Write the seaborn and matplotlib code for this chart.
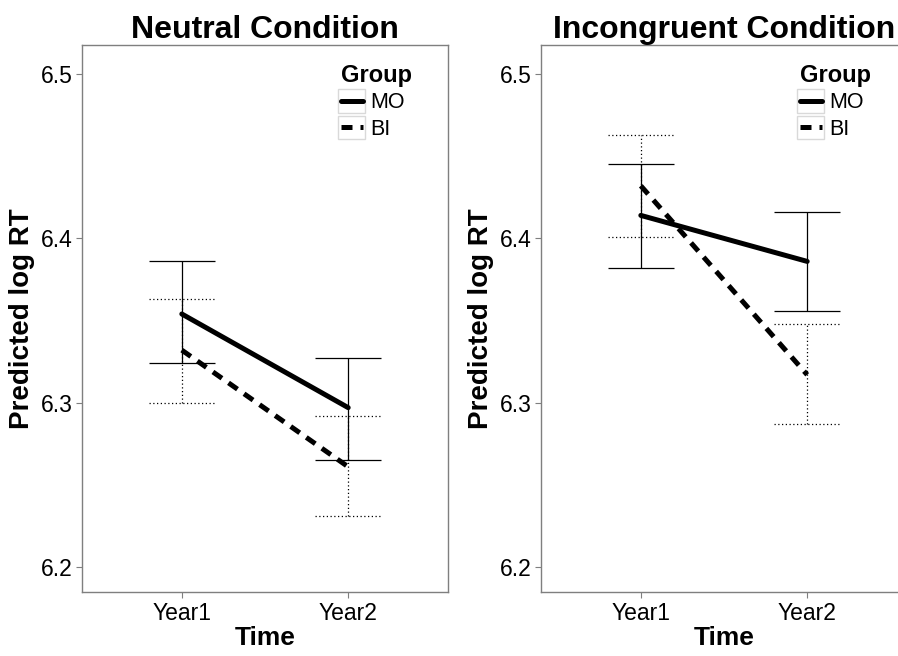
import matplotlib
matplotlib.use("Agg")
import matplotlib.pyplot as plt
import seaborn as sns
import pandas as pd
from matplotlib.lines import Line2D
from matplotlib.patches import Rectangle
from matplotlib.legend_handler import HandlerLine2D

# Valores
times = ["Year1", "Year2"]
groups = ["MO", "BI"]
conditions = ["Neutral Condition", "Incongruent Condition"]

neutral_mo = [6.354, 6.297]
neutral_mo_lo = [6.324, 6.265]
neutral_mo_hi = [6.386, 6.327]
neutral_bi = [6.332, 6.261]
neutral_bi_lo = [6.300, 6.231]
neutral_bi_hi = [6.363, 6.292]

incong_mo = [6.414, 6.386]
incong_mo_lo = [6.382, 6.356]
incong_mo_hi = [6.445, 6.416]
incong_bi = [6.432, 6.317]
incong_bi_lo = [6.401, 6.287]
incong_bi_hi = [6.463, 6.348]

y_ticks = [6.2, 6.3, 6.4, 6.5]


def build_df(cond, mo, mo_lo, mo_hi, bi, bi_lo, bi_hi):
    rows = []
    for g, v, lo, hi in [("MO", mo, mo_lo, mo_hi), ("BI", bi, bi_lo, bi_hi)]:
        for i, t in enumerate(times):
            rows.append({"condition": cond, "Time": t, "Group": g,
                         "rt": v[i], "lo": lo[i], "hi": hi[i]})
    return pd.DataFrame(rows)


class BoxedLine(HandlerLine2D):
    # clave de leyenda con recuadro gris, como en ggplot
    def create_artists(self, legend, orig_handle, xdescent, ydescent,
                       width, height, fontsize, trans):
        arts = super().create_artists(legend, orig_handle, xdescent, ydescent,
                                      width, height, fontsize, trans)
        box = Rectangle((-xdescent - 2, -ydescent - 3), width + 4, height + 6,
                        fill=False, edgecolor="#d9d9d9", linewidth=1.0,
                        transform=trans)
        return [box] + arts


df = pd.concat([
    build_df(conditions[0], neutral_mo, neutral_mo_lo, neutral_mo_hi,
             neutral_bi, neutral_bi_lo, neutral_bi_hi),
    build_df(conditions[1], incong_mo, incong_mo_lo, incong_mo_hi,
             incong_bi, incong_bi_lo, incong_bi_hi),
], ignore_index=True)
df["x"] = df["Time"].map({t: i for i, t in enumerate(times)})

sns.set_theme(style="white")
plt.rcParams["font.family"] = ["Liberation Sans", "DejaVu Sans"]
plt.rcParams["text.color"] = "black"
plt.rcParams["axes.labelcolor"] = "black"
plt.rcParams["axes.titlecolor"] = "black"

fig = plt.figure(figsize=(8.98, 6.56), dpi=100)
W, H = 898, 656
ax_pos = [(82, 45, 366, 547), (541, 45, 366, 547)]

main_dash = {"MO": "", "BI": (2.2, 1.6)}
err_style = {"MO": "-", "BI": (0, (1, 2))}

for cond, (px, py, pw, ph) in zip(conditions, ax_pos):
    ax = fig.add_axes([px / W, 1 - (py + ph) / H, pw / W, ph / H])
    sub = df[df["condition"] == cond]

    # barras de error: BI primero, MO encima
    for g in ["BI", "MO"]:
        d = sub[sub["Group"] == g]
        ax.vlines(d["x"], d["lo"], d["hi"], colors="black",
                  linewidth=0.9, linestyles=err_style[g], zorder=2)
        ax.hlines(d["lo"], d["x"] - 0.2, d["x"] + 0.2, colors="black",
                  linewidth=0.9, linestyles=err_style[g], zorder=2)
        ax.hlines(d["hi"], d["x"] - 0.2, d["x"] + 0.2, colors="black",
                  linewidth=0.9, linestyles=err_style[g], zorder=2)

    sns.lineplot(data=sub, x="x", y="rt", style="Group", style_order=groups,
                 dashes=main_dash, color="black", linewidth=3.6,
                 ax=ax, legend=False, zorder=3)

    ax.set_xlim(-0.6, 1.6)
    ax.set_ylim(6.1848, 6.5177)
    ax.set_xticks(range(len(times)))
    ax.set_xticklabels(times)
    ax.set_yticks(y_ticks)
    ax.set_yticklabels([f"{v:.1f}" for v in y_ticks])
    ax.tick_params(axis="both", direction="out", length=4, width=0.8,
                   color="#7f7f7f", labelsize=16.5, labelcolor="black",
                   bottom=True, left=True, pad=3)
    for sp in ax.spines.values():
        sp.set_color("#7f7f7f")
        sp.set_linewidth(1.0)
    ax.set_title(cond, fontsize=23, fontweight="bold", pad=5)
    ax.set_xlabel("Time", fontsize=19, fontweight="bold", labelpad=1)
    ax.set_ylabel("Predicted log RT", fontsize=20, fontweight="bold",
                  labelpad=4)

    handles = [Line2D([], [], color="black", linewidth=3.6, linestyle="-"),
               Line2D([], [], color="black", linewidth=3.6,
                      dashes=(2.2, 1.6))]
    leg = ax.legend(handles, groups, title="Group", loc="upper left",
                    bbox_to_anchor=(244 / pw, (ph - 4) / ph),
                    frameon=False, fontsize=15.5, handlelength=1.0,
                    handleheight=0.7, handletextpad=0.35, borderpad=0.2,
                    labelspacing=0.25,
                    handler_map={Line2D: BoxedLine()},
                    title_fontproperties={"weight": "bold", "size": 17})
    leg._legend_box.align = "left"

fig.savefig("out.png", dpi=100, facecolor="white")
